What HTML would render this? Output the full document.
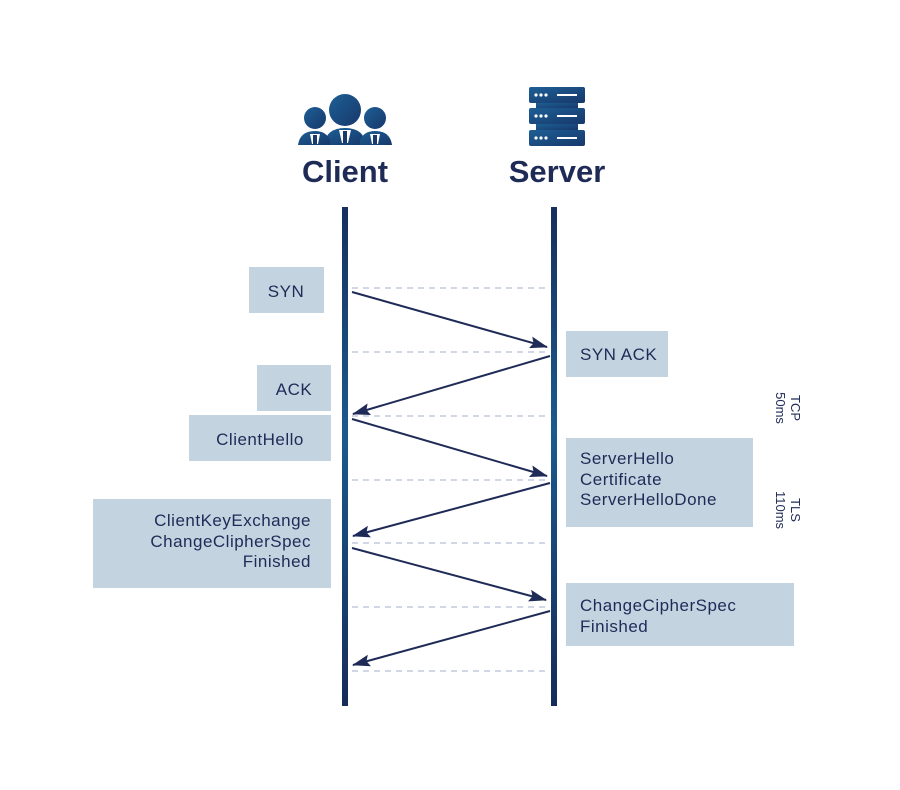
<!DOCTYPE html>
<html><head><meta charset="utf-8"><style>
html,body{margin:0;padding:0;background:#fff;}
svg{display:block}
text{font-family:"Liberation Sans",sans-serif;fill:#1f2b57;}
</style></head><body>
<svg width="900" height="790" viewBox="0 0 900 790" xmlns="http://www.w3.org/2000/svg">
<defs>
<linearGradient id="lg" x1="0" y1="0" x2="0" y2="1">
<stop offset="0" stop-color="#17305e"/><stop offset="0.45" stop-color="#1b5a8e"/><stop offset="1" stop-color="#162c5a"/>
</linearGradient>
<linearGradient id="ig" x1="0" y1="0" x2="1" y2="1">
<stop offset="0" stop-color="#1d5f95"/><stop offset="1" stop-color="#17386b"/>
</linearGradient>
<marker id="ah" markerWidth="18" markerHeight="12" refX="17" refY="6" orient="auto" markerUnits="userSpaceOnUse">
<path d="M0,0 L18,6 L0,12 L3,6 Z" fill="#1f2b57"/>
</marker>
</defs>

<g fill="url(#ig)">
<circle cx="345" cy="110" r="16"/>
<circle cx="315" cy="118" r="11"/>
<circle cx="375" cy="118" r="11"/>
<path d="M324,145 Q326,128 345,128 Q364,128 366,145 Z"/>
<path d="M298,145 Q300,131 315,131 Q326,131 330,140 L330,145 Z"/>
<path d="M360,145 L360,140 Q364,131 375,131 Q390,131 392,145 Z"/>
</g>
<g fill="#fff">
<path d="M339,130 L351,130 L348,143 L342,143 Z"/>
<path d="M310,134 L320,134 L318,144 L312,144 Z"/>
<path d="M370,134 L380,134 L378,144 L372,144 Z"/>
</g>
<g fill="#1a3a6c"><rect x="343" y="131" width="4" height="12"/><rect x="313" y="135" width="4" height="9"/><rect x="373" y="135" width="4" height="9"/></g>

<g fill="url(#ig)">
<rect x="529" y="87" width="56" height="16" rx="2"/>
<rect x="529" y="108" width="56" height="16" rx="2"/>
<rect x="529" y="130" width="56" height="16" rx="2"/>
<rect x="536" y="103" width="42" height="5"/>
<rect x="536" y="124" width="42" height="6"/>
</g>
<g fill="#fff">
<circle cx="536" cy="95" r="1.6"/><circle cx="541" cy="95" r="1.6"/><circle cx="546" cy="95" r="1.6"/><rect x="557" y="94" width="20" height="2"/>
<circle cx="536" cy="116" r="1.6"/><circle cx="541" cy="116" r="1.6"/><circle cx="546" cy="116" r="1.6"/><rect x="557" y="115" width="20" height="2"/>
<circle cx="536" cy="138" r="1.6"/><circle cx="541" cy="138" r="1.6"/><circle cx="546" cy="138" r="1.6"/><rect x="557" y="137" width="20" height="2"/>
</g>

<text x="345" y="182" text-anchor="middle" font-size="31" font-weight="bold">Client</text>
<text x="557" y="182" text-anchor="middle" font-size="31" font-weight="bold">Server</text>

<rect x="342" y="207" width="6" height="499" fill="url(#lg)"/>
<rect x="551" y="207" width="6" height="499" fill="url(#lg)"/>

<g stroke="#a3afc8" stroke-width="1" stroke-dasharray="6,5">
<line x1="352" y1="288" x2="548" y2="288"/>
<line x1="352" y1="352" x2="548" y2="352"/>
<line x1="352" y1="416" x2="548" y2="416"/>
<line x1="352" y1="480" x2="548" y2="480"/>
<line x1="352" y1="543" x2="548" y2="543"/>
<line x1="352" y1="607" x2="548" y2="607"/>
<line x1="352" y1="671" x2="548" y2="671"/>
</g>

<g fill="#c3d3e0">
<rect x="249" y="267" width="75" height="46"/>
<rect x="566" y="331" width="102" height="46"/>
<rect x="257" y="365" width="74" height="46"/>
<rect x="189" y="415" width="142" height="46"/>
<rect x="566" y="438" width="187" height="89"/>
<rect x="93" y="499" width="238" height="89"/>
<rect x="566" y="583" width="228" height="63"/>
</g>

<g stroke="#1f2b57" stroke-width="2" marker-end="url(#ah)">
<line x1="352" y1="292" x2="547" y2="347"/>
<line x1="550" y1="356" x2="353" y2="414"/>
<line x1="352" y1="419" x2="547" y2="476"/>
<line x1="550" y1="483" x2="353" y2="536"/>
<line x1="352" y1="548" x2="546" y2="600"/>
<line x1="550" y1="611" x2="353" y2="665"/>
</g>

<g font-size="17" letter-spacing="0.5">
<text x="286" y="297" text-anchor="middle">SYN</text>
<text x="580" y="360">SYN ACK</text>
<text x="294" y="395" text-anchor="middle">ACK</text>
<text x="260" y="445" text-anchor="middle">ClientHello</text>
<text x="580" y="464">ServerHello</text>
<text x="580" y="485">Certificate</text>
<text x="580" y="505">ServerHelloDone</text>
<text x="311" y="526" text-anchor="end">ClientKeyExchange</text>
<text x="311" y="547" text-anchor="end">ChangeClipherSpec</text>
<text x="311" y="567" text-anchor="end">Finished</text>
<text x="580" y="611">ChangeCipherSpec</text>
<text x="580" y="632">Finished</text>
</g>

<g font-size="13">
<text transform="translate(791,408) rotate(90)" text-anchor="middle">TCP</text>
<text transform="translate(776,408) rotate(90)" text-anchor="middle">50ms</text>
<text transform="translate(791,510) rotate(90)" text-anchor="middle">TLS</text>
<text transform="translate(776,510) rotate(90)" text-anchor="middle">110ms</text>
</g>
</svg>
</body></html>
